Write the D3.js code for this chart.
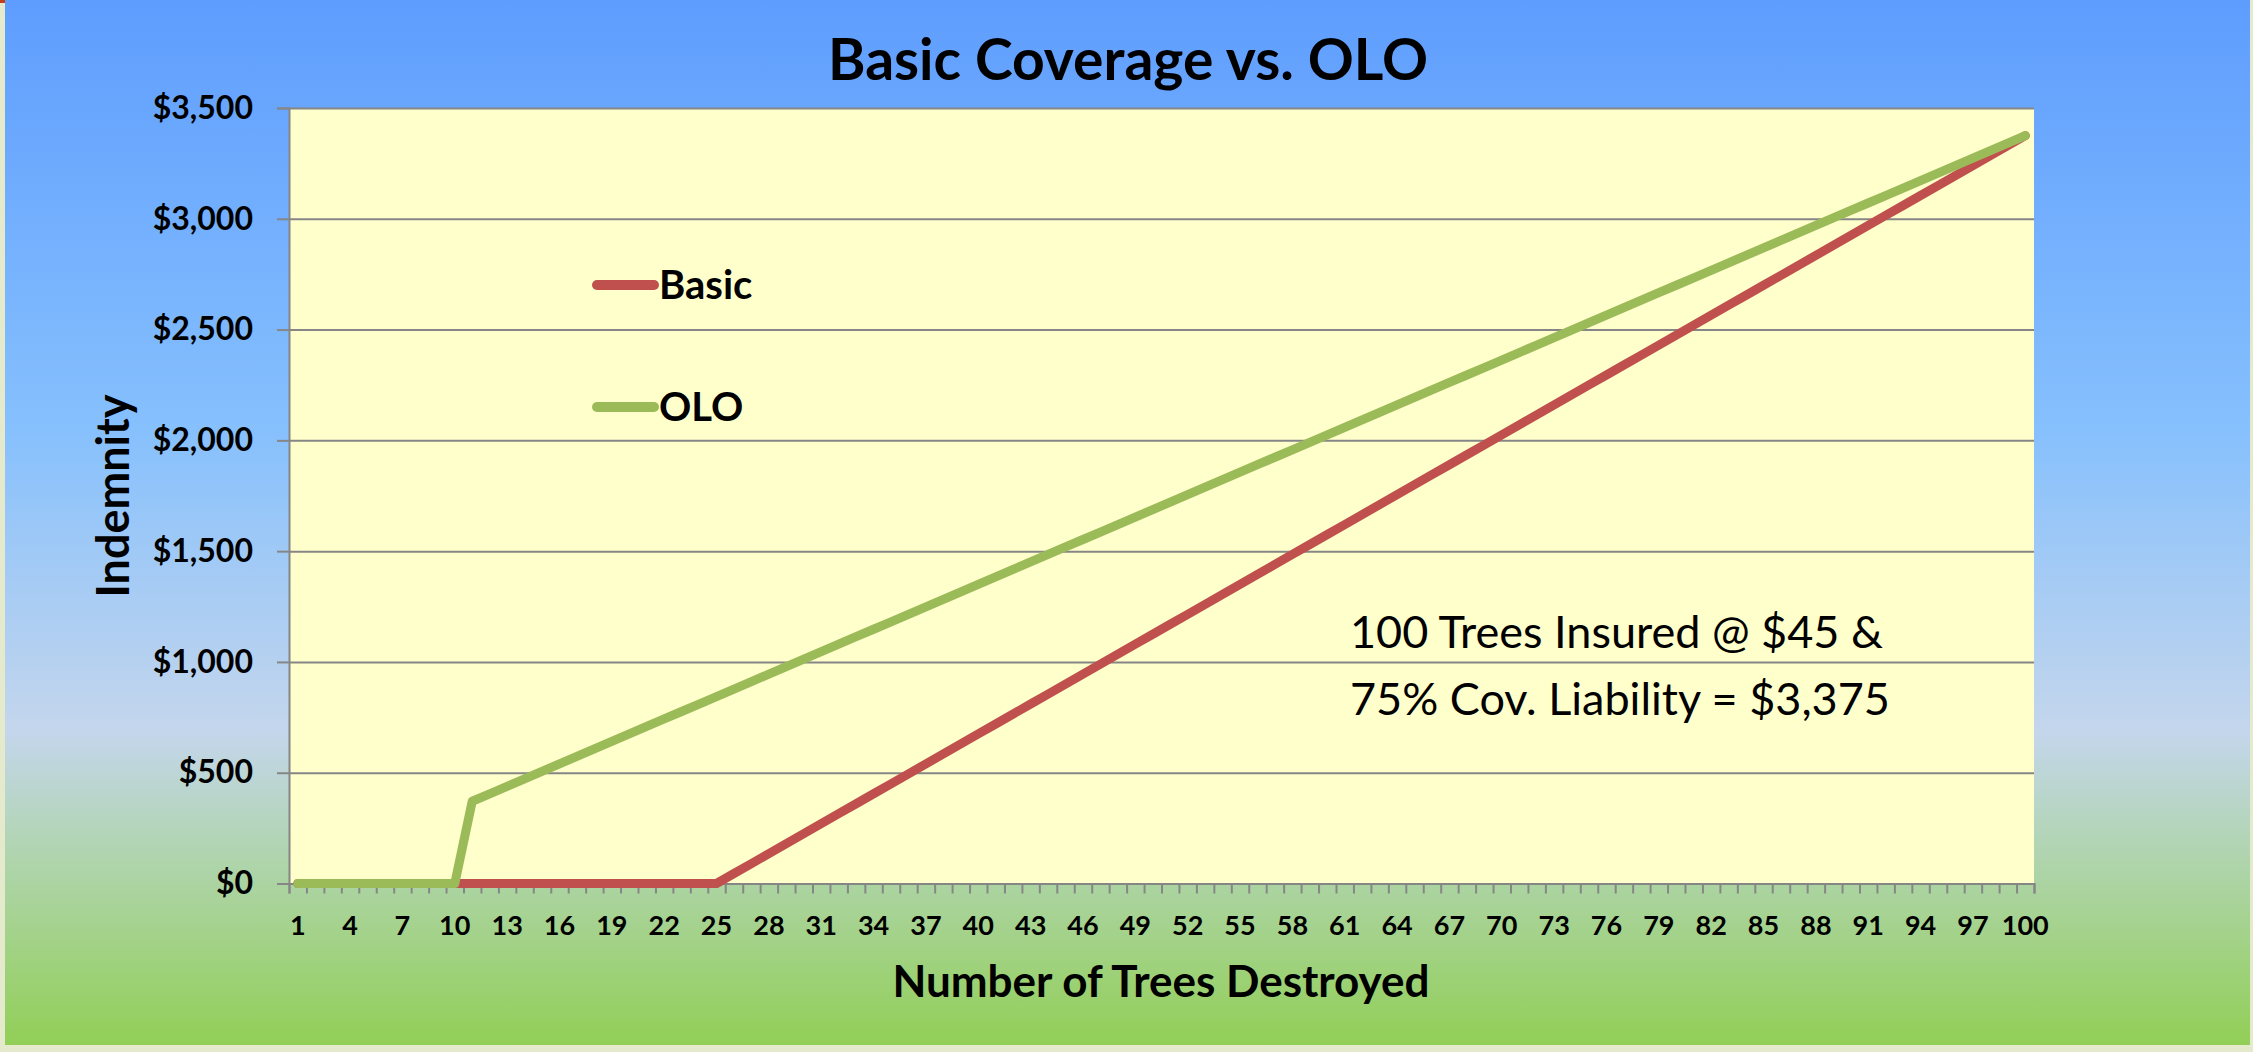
<!DOCTYPE html>
<html>
<head>
<meta charset="utf-8">
<script src="https://cdn.jsdelivr.net/npm/d3@7"></script>
<style>
  html, body { margin: 0; padding: 0; background: #e5eacd; }
  svg { display: block; }
  text { font-family: Lato, "Open Sans", sans-serif; }
</style>
</head>
<body>
<script>
// number of trees destroyed (categories)
var trees = [1,2,3,4,5,6,7,8,9,10,11,12,13,14,15,16,17,18,19,20,
  21,22,23,24,25,26,27,28,29,30,31,32,33,34,35,36,37,38,39,40,
  41,42,43,44,45,46,47,48,49,50,51,52,53,54,55,56,57,58,59,60,
  61,62,63,64,65,66,67,68,69,70,71,72,73,74,75,76,77,78,79,80,
  81,82,83,84,85,86,87,88,89,90,91,92,93,94,95,96,97,98,99,100];

// indemnity, basic coverage
var basic = [0,0,0,0,0,0,0,0,0,0,0,0,0,0,0,0,0,0,0,0,
  0,0,0,0,0,45,90,135,180,225,270,315,360,405,450,495,540,585,630,675,
  720,765,810,855,900,945,990,1035,1080,1125,1170,1215,1260,1305,1350,1395,1440,1485,1530,1575,
  1620,1665,1710,1755,1800,1845,1890,1935,1980,2025,2070,2115,2160,2205,2250,2295,2340,2385,2430,2475,
  2520,2565,2610,2655,2700,2745,2790,2835,2880,2925,2970,3015,3060,3105,3150,3195,3240,3285,3330,3375];

// indemnity, OLO
var olo = [0,0,0,0,0,0,0,0,0,0,371.25,405,438.75,472.5,506.25,540,573.75,607.5,641.25,675,
  708.75,742.5,776.25,810,843.75,877.5,911.25,945,978.75,1012.5,1046.25,1080,1113.75,1147.5,1181.25,1215,1248.75,1282.5,1316.25,1350,
  1383.75,1417.5,1451.25,1485,1518.75,1552.5,1586.25,1620,1653.75,1687.5,1721.25,1755,1788.75,1822.5,1856.25,1890,1923.75,1957.5,1991.25,2025,
  2058.75,2092.5,2126.25,2160,2193.75,2227.5,2261.25,2295,2328.75,2362.5,2396.25,2430,2463.75,2497.5,2531.25,2565,2598.75,2632.5,2666.25,2700,
  2733.75,2767.5,2801.25,2835,2868.75,2902.5,2936.25,2970,3003.75,3037.5,3071.25,3105,3138.75,3172.5,3206.25,3240,3273.75,3307.5,3341.25,3375];

var xTickLabels = [1,4,7,10,13,16,19,22,25,28,31,34,37,40,43,46,49,52,55,58,61,64,67,70,73,76,79,82,85,88,91,94,97,100];
var yTicks = [0,500,1000,1500,2000,2500,3000,3500];

var W = 2253, H = 1052;
var margin = { top: 108, right: 219, bottom: 168.5, left: 289 };
var width = W - margin.left - margin.right;
var height = H - margin.top - margin.bottom;

var svg = d3.select("body").append("svg")
    .attr("width", W)
    .attr("height", H);

var defs = svg.append("defs");
var grad = defs.append("linearGradient")
    .attr("id", "bg")
    .attr("x1", 0).attr("y1", 0).attr("x2", 0).attr("y2", 1);
[[0, "#5e9dfe"], [0.41, "#86c0fd"], [0.70, "#c4d6ec"], [0.80, "#b3d5b8"], [1, "#92cf57"]]
  .forEach(function(s) {
    grad.append("stop").attr("offset", s[0]).attr("stop-color", s[1]);
  });

// slide background
svg.append("rect").attr("x", 0).attr("y", 0).attr("width", W).attr("height", H).attr("fill", "#e5eacd");
svg.append("rect").attr("x", 5).attr("y", 0).attr("width", W - 8).attr("height", 1045).attr("fill", "url(#bg)");
svg.append("rect").attr("x", 0).attr("y", 0).attr("width", 5).attr("height", 3).attr("fill", "#c0401a");

var g = svg.append("g")
    .attr("transform", "translate(" + margin.left + "," + margin.top + ")");

var x = d3.scaleBand()
    .domain(trees)
    .range([0, width])
    .padding(0);

var xEdge = d3.scaleLinear()
    .domain([0, trees.length])
    .range([0, width]);

var y = d3.scaleLinear()
    .domain([0, 3500])
    .range([height, 0]);

// plot area
g.append("rect")
    .attr("width", width)
    .attr("height", height)
    .attr("fill", "#ffffcc");

// gridlines
g.append("g")
    .attr("class", "grid")
    .call(d3.axisLeft(y).tickValues(yTicks).tickSize(-width).tickFormat(""))
    .call(function(s) {
      s.select(".domain").remove();
      s.selectAll("line").attr("stroke", "#868686").attr("stroke-width", 2);
    });

// y axis
g.append("g")
    .call(d3.axisLeft(y).tickValues(yTicks).tickSize(12).tickPadding(24)
      .tickFormat(function(d) { return "$" + d3.format(",")(d); }))
    .call(function(s) {
      s.select(".domain").attr("stroke", "#868686").attr("stroke-width", 2);
      s.selectAll("line").attr("stroke", "#868686").attr("stroke-width", 2);
      s.selectAll("text")
        .attr("fill", "#000")
        .attr("font-family", "Lato")
        .attr("font-weight", "bold")
        .attr("font-size", "32px");
    });

// x axis: tick marks between categories
g.append("g")
    .attr("transform", "translate(0," + height + ")")
    .call(d3.axisBottom(xEdge).tickValues(d3.range(0, trees.length + 1)).tickSize(10).tickFormat(""))
    .call(function(s) {
      s.select(".domain").attr("stroke", "#868686").attr("stroke-width", 2);
      s.selectAll("line").attr("stroke", "#868686").attr("stroke-width", 2);
    });

// x axis: labels
g.append("g")
    .attr("transform", "translate(0," + height + ")")
    .call(d3.axisBottom(x).tickValues(xTickLabels).tickSize(0).tickPadding(32))
    .call(function(s) {
      s.select(".domain").remove();
      s.selectAll("text")
        .attr("fill", "#000")
        .attr("font-family", "Lato")
        .attr("font-weight", "bold")
        .attr("font-size", "27px");
    });

var line = d3.line()
    .x(function(d) { return x(d.n) + x.bandwidth() / 2; })
    .y(function(d) { return y(d.v); });

var series = [
  { name: "Basic", color: "#c0504d", values: basic },
  { name: "OLO", color: "#9bbb59", values: olo }
];

series.forEach(function(s) {
  var pts = trees.map(function(n, i) { return { n: n, v: s.values[i] }; });
  g.append("path")
    .datum(pts)
    .attr("fill", "none")
    .attr("stroke", s.color)
    .attr("stroke-width", 9)
    .attr("stroke-linejoin", "round")
    .attr("stroke-linecap", "round")
    .attr("d", line);
});

// legend
var legend = svg.append("g");
series.forEach(function(s, i) {
  var ly = 285 + i * 122;
  legend.append("line")
    .attr("x1", 597).attr("x2", 654)
    .attr("y1", ly).attr("y2", ly)
    .attr("stroke", s.color)
    .attr("stroke-width", 10)
    .attr("stroke-linecap", "round");
  legend.append("text")
    .attr("x", 659)
    .attr("y", ly + 14)
    .attr("font-weight", "bold")
    .attr("font-size", "40px")
    .attr("fill", "#000")
    .text(s.name);
});

// note
var note = svg.append("text")
    .attr("x", 1350)
    .attr("y", 648)
    .attr("font-size", "45px")
    .attr("fill", "#000");
note.append("tspan").attr("x", 1350).text("100 Trees Insured @ $45 &");
note.append("tspan").attr("x", 1350).attr("dy", 67).text("75% Cov. Liability = $3,375");

// title
svg.append("text")
    .attr("x", 1128)
    .attr("y", 80)
    .attr("text-anchor", "middle")
    .attr("font-weight", "bold")
    .attr("font-size", "57px")
    .attr("fill", "#000")
    .text("Basic Coverage vs. OLO");

// axis titles
svg.append("text")
    .attr("x", 1161)
    .attr("y", 997)
    .attr("text-anchor", "middle")
    .attr("font-weight", "bold")
    .attr("font-size", "44px")
    .attr("fill", "#000")
    .text("Number of Trees Destroyed");

svg.append("text")
    .attr("transform", "translate(129,496) rotate(-90)")
    .attr("text-anchor", "middle")
    .attr("font-weight", "bold")
    .attr("font-size", "45px")
    .attr("fill", "#000")
    .text("Indemnity");
</script>
</body>
</html>
